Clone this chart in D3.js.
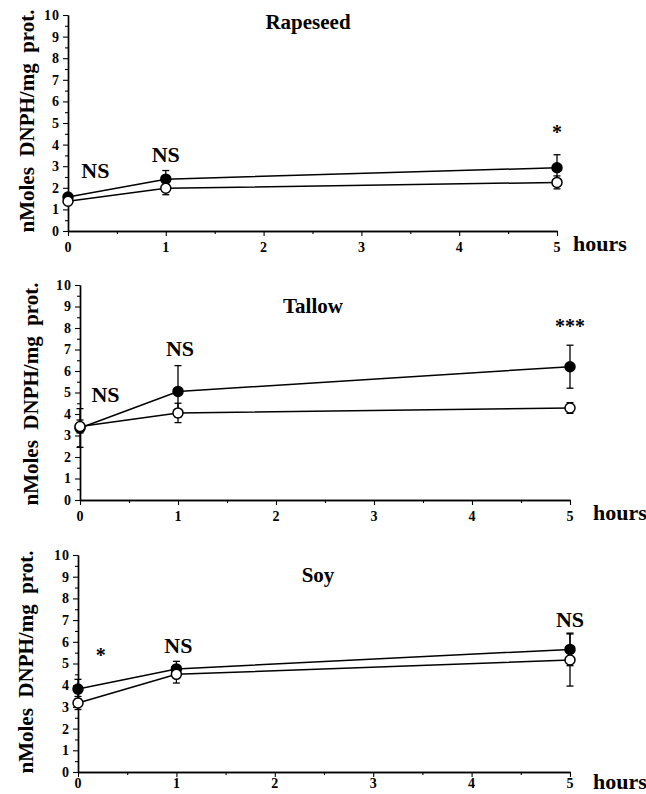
<!DOCTYPE html>
<html>
<head>
<meta charset="utf-8">
<script src="https://cdn.jsdelivr.net/npm/d3@7"></script>
<style>
  body { margin: 0; background: #fff; }
</style>
</head>
<body>
<script>
var SERIF = "'Liberation Serif', 'Times New Roman', 'DejaVu Serif', serif";

// data
var hours = [0, 1, 5];
var panelNames = ["Rapeseed", "Tallow", "Soy"];

var rapeseedFilled = [1.57, 2.4, 2.93];
var rapeseedFilledSd = [0.15, 0.4, 0.6];
var rapeseedOpen = [1.38, 1.98, 2.25];
var rapeseedOpenSd = [0.12, 0.3, 0.3];

var tallowFilled = [3.35, 5.05, 6.2];
var tallowFilledSd = [0.9, 1.2, 1.0];
var tallowOpen = [3.42, 4.05, 4.28];
var tallowOpenSd = [0.3, 0.45, 0.25];

var soyFilled = [3.82, 4.75, 5.65];
var soyFilledSd = [0.45, 0.35, 0.75];
var soyOpen = [3.18, 4.5, 5.16];
var soyOpenSd = [0.3, 0.4, 1.2];

// significance marks, anchored in data units [hours, nmoles]
var rapeseedSig = ["NS", "NS", "*"];
var rapeseedSigAt = [[0.28, 2.8], [1.0, 3.55], [5.0, 4.6]];
var tallowSig = ["NS", "NS", "***"];
var tallowSigAt = [[0.26, 4.9], [1.02, 7.05], [5.0, 8.1]];
var soySig = ["*", "NS", "NS"];
var soySigAt = [[0.23, 5.4], [1.02, 5.85], [5.0, 7.05]];

var yTicks = [0, 1, 2, 3, 4, 5, 6, 7, 8, 9, 10];
var xTicks = [0, 1, 2, 3, 4, 5];

var svg = d3.select("body").append("svg")
  .attr("width", 646)
  .attr("height", 794)
  .style("font-family", SERIF)
  ;

// layout of each panel on the page
var frames = [
  { left: 68, right: 557, top: 15, bottom: 231, xPad: 6, titleX: 308, titleY: 29, hoursX: 573, hoursY: 251, ylabX: 34, ylabY: 121 },
  { left: 80, right: 570, top: 285, bottom: 500, xPad: 6, titleX: 313, titleY: 313, hoursX: 593, hoursY: 520, ylabX: 38, ylabY: 394 },
  { left: 78, right: 570, top: 555, bottom: 772, xPad: 1, titleX: 318, titleY: 582, hoursX: 593, hoursY: 789, ylabX: 33, ylabY: 662 }
];

var series = [
  { filled: rapeseedFilled, filledSd: rapeseedFilledSd, open: rapeseedOpen, openSd: rapeseedOpenSd, sig: rapeseedSig, sigAt: rapeseedSigAt },
  { filled: tallowFilled, filledSd: tallowFilledSd, open: tallowOpen, openSd: tallowOpenSd, sig: tallowSig, sigAt: tallowSigAt },
  { filled: soyFilled, filledSd: soyFilledSd, open: soyOpen, openSd: soyOpenSd, sig: soySig, sigAt: soySigAt }
];

addLabel = function(g, str, size) {
  return g.append("text")
    .attr("font-family", SERIF)
    .attr("font-weight", "bold")
    .attr("font-size", size)
    .attr("fill", "#000")
    .text(str)
    ;
}

drawPanel = function(name, f, s) {
  var x = d3.scaleLinear().domain([0, 5]).range([f.left, f.right]);
  var y = d3.scaleLinear().domain([0, 10]).range([f.bottom, f.top]);
  var g = svg.append("g");

  // minor ticks at half steps
  g.append("g")
    .attr("transform", "translate(" + f.left + ",0)")
    .call(d3.axisLeft(y).tickValues(d3.range(0.5, 10, 1)).tickSize(3).tickSizeOuter(0).tickFormat(""))
    ;
  g.append("g")
    .attr("transform", "translate(0," + f.bottom + ")")
    .call(d3.axisBottom(x).tickValues(d3.range(0.5, 5, 1)).tickSize(3).tickSizeOuter(0).tickFormat(""))
    ;

  g.append("g")
    .attr("transform", "translate(" + f.left + ",0)")
    .call(d3.axisLeft(y).tickValues(yTicks).tickFormat(d3.format("d")).tickSize(5).tickSizeOuter(0).tickPadding(3))
    ;
  g.append("g")
    .attr("transform", "translate(0," + f.bottom + ")")
    .call(d3.axisBottom(x).tickValues(xTicks).tickFormat(d3.format("d")).tickSize(5).tickSizeOuter(0).tickPadding(f.xPad))
    ;
  g.selectAll(".domain").attr("stroke-width", 1.4);
  g.selectAll(".tick line").attr("stroke-width", 1.1);
  g.selectAll(".tick text")
    .attr("font-family", SERIF)
    .attr("font-weight", "bold")
    .attr("font-size", 14)
    .attr("letter-spacing", 1)
    ;

  // titles and labels
  addLabel(g, name, 21)
    .attr("x", f.titleX).attr("y", f.titleY)
    .attr("text-anchor", "middle")
    ;
  addLabel(g, "hours", 22)
    .attr("x", f.hoursX).attr("y", f.hoursY)
    ;
  addLabel(g, "nMoles\u00a0\u00a0DNPH/mg\u00a0\u00a0prot.", 21)
    .attr("transform", "translate(" + f.ylabX + "," + f.ylabY + ") rotate(-90)")
    .attr("text-anchor", "middle")
    ;

  var line = d3.line()
    .x(function(d, i) { return x(hours[i]); })
    .y(function(d) { return y(d); })
    ;

  [["filled", "filledSd"], ["open", "openSd"]].forEach(function(k) {
    var vals = s[k[0]], sd = s[k[1]];
    g.append("path")
      .attr("d", line(vals))
      .attr("fill", "none")
      .attr("stroke", "#000")
      .attr("stroke-width", 1.5)
      ;
    vals.forEach(function(v, i) {
      var cx = x(hours[i]);
      var y0 = y(v - sd[i]), y1 = y(v + sd[i]);
      g.append("line").attr("x1", cx).attr("x2", cx).attr("y1", y0).attr("y2", y1)
        .attr("stroke", "#000").attr("stroke-width", 1.3);
      g.append("line").attr("x1", cx - 3.5).attr("x2", cx + 3.5).attr("y1", y0).attr("y2", y0)
        .attr("stroke", "#000").attr("stroke-width", 1.3);
      g.append("line").attr("x1", cx - 3.5).attr("x2", cx + 3.5).attr("y1", y1).attr("y2", y1)
        .attr("stroke", "#000").attr("stroke-width", 1.3);
    });
  });

  ["filled", "open"].forEach(function(k) {
    g.selectAll("circle." + k)
      .data(s[k])
      .enter().append("circle")
      .attr("class", k)
      .attr("cx", function(d, i) { return x(hours[i]); })
      .attr("cy", function(d) { return y(d); })
      .attr("r", 5)
      .attr("fill", k === "filled" ? "#000" : "#fff")
      .attr("stroke", "#000")
      .attr("stroke-width", 1.5)
      ;
  });

  s.sig.forEach(function(t, i) {
    addLabel(g, t, t === "NS" ? 22 : 20)
      .attr("x", x(s.sigAt[i][0]))
      .attr("y", y(s.sigAt[i][1]))
      .attr("text-anchor", "middle")
      .attr("dominant-baseline", "central")
      ;
  });
}

frames.forEach(function(f, i) { drawPanel(panelNames[i], f, series[i]); });
</script>
</body>
</html>
